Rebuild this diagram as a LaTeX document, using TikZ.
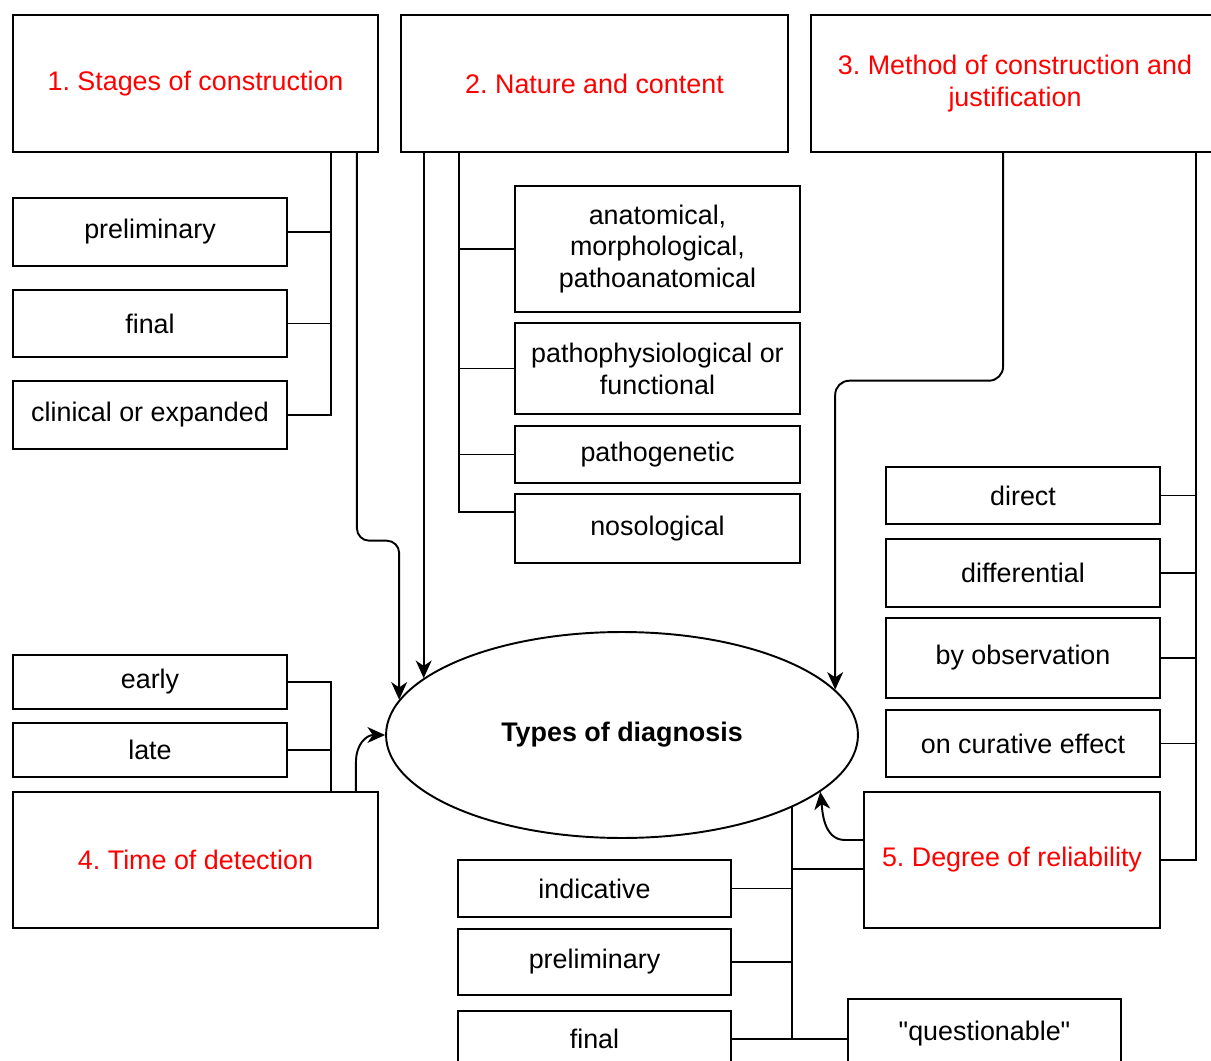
\documentclass[tikz,border=0pt]{standalone}
\usepackage{fontspec}
\setmainfont{Liberation Sans}
\usepackage{tikz}
\usetikzlibrary{calc,shapes.geometric,arrows.meta}
\frenchspacing

\begin{document}
\begin{tikzpicture}[x=0.02cm,y=-0.02cm,line width=1.1pt,
    box/.style={draw,rectangle,inner sep=2pt,align=center,font=\fontsize{15.3}{18.1}\selectfont},
    head/.style={box,text=red,minimum height=2.73cm},
    leaf/.style={box,minimum width=5.48cm},
    arr/.style={-{Stealth[length=10pt,width=9pt,inset=3pt]}}]
  \useasboundingbox (0,0) rectangle (1211,1061);
  %\draw[very thin,lightgray] (0,0) grid[step=100] (1211,1061);
  \node[head,minimum width=7.3cm] (b1) at (195.5,83.5) {1. Stages of construction};
  \node[head,minimum width=7.74cm] (b2) at (594.5,83.5) {2. Nature and content};
  \node[head,minimum width=8.16cm] (b3) at (1015,83.5) {3. Method of construction and\\justification};
  \node[head,minimum width=7.3cm] (b4) at (195.5,860) {4. Time of detection};
  \node[head,minimum width=5.92cm] (rel) at (1012,860) {5. Degree of reliability};
  \node[draw,ellipse,minimum width=9.44cm,minimum height=4.12cm,inner sep=0pt,
    font=\bfseries\fontsize{15.3}{18.1}\selectfont] (ell) at (622,735) {Types of diagnosis};

  \node[leaf,minimum height=1.36cm] (pre1) at (150,232) {preliminary};
  \node[leaf,minimum height=1.34cm] (fin1) at (150,323.5) {final};
  \node[leaf,minimum height=1.36cm] (cli) at (150,415) {clinical or expanded};

  \node[leaf,minimum width=5.7cm,minimum height=2.52cm] (ana) at (657.5,249) {anatomical,\\morphological,\\pathoanatomical};
  \node[leaf,minimum width=5.7cm,minimum height=1.82cm] (phy) at (657.5,368.5) {pathophysiological or\\functional};
  \node[leaf,minimum width=5.7cm,minimum height=1.14cm] (gen) at (657.5,454.5) {pathogenetic};
  \node[leaf,minimum width=5.7cm,minimum height=1.38cm] (nos) at (657.5,528.5) {nosological};

  \node[leaf,minimum height=1.14cm] (dir) at (1023,495.5) {direct};
  \node[leaf,minimum height=1.36cm] (dif) at (1023,573) {differential};
  \node[leaf,minimum height=1.6cm] (obs) at (1023,658) {by observation};
  \node[leaf,minimum height=1.34cm] (cur) at (1023,743.5) {on curative effect};

  \node[leaf,minimum height=1.08cm] (early) at (150,682) {early};
  \node[leaf,minimum height=1.08cm] (late) at (150,750) {late};

  \node[leaf,minimum width=5.46cm,minimum height=1.14cm] (ind) at (594.5,888.5) {indicative};
  \node[leaf,minimum width=5.46cm,minimum height=1.32cm] (pre2) at (594.5,962) {preliminary};
  \node[leaf,minimum width=5.46cm,minimum height=1.12cm] (fin2) at (594.5,1039) {final};
  \node[leaf,minimum width=5.46cm,minimum height=1.4cm] (que) at (984.5,1034) {\textquotedbl questionable\textquotedbl};

  % 1. stages
  \coordinate (s1) at ($(b1.south east)+(-48,0)$);
  \foreach \n in {pre1,fin1,cli} \draw (s1) |- (\n.east);
  \draw[arr,rounded corners=7pt] ($(b1.south east)+(-22,0)$) -- ++(0,388) -| (ell.171.8);

  % 2. nature
  \coordinate (s2) at ($(b2.south west)+(59,0)$);
  \foreach \n in {ana,phy,gen} \draw (s2) |- (\n.west);
  \draw (s2) |- ($(nos.west)+(0,-16.5)$);
  \draw[arr] (b2.south -| ell.164.2) -- (ell.164.2);

  % 3. method
  \coordinate (s3) at ($(b3.south west)+(386,0)$);
  \foreach \n in {dir,dif,obs,cur,rel} \draw (s3) |- (\n.east);
  \draw[arr,rounded corners=8pt] ($(b3.south west)+(193,0)$) -- ++(0,228) -| (ell.12.5);

  % 4. time
  \coordinate (s4) at ($(b4.north east)+(-48,0)$);
  \foreach \n in {early,late} \draw (s4) |- (\n.east);
  \coordinate (c4) at ($(b4.north east)+(-23,-28)$);
  \draw[arr] (c4 |- b4.north) -- (c4) .. controls +(0,-20) and +(-18,0) .. (ell.west);

  % 5. reliability
  \coordinate (r5) at ($(rel.west)+(0,9)$);
  \draw (ell.-23.8) |- (fin2.east);
  \draw (r5) -- (r5 -| ell.-23.8);
  \foreach \n in {ind,pre2} \draw (\n.east) -- (\n.east -| ell.-23.8);
  \draw (fin2.east) -- (que.west |- fin2.east);
  \coordinate (c5) at ($(rel.west)+(-18,-20)$);
  \draw[arr] ($(rel.west)+(0,-20)$) -- (c5) .. controls +(-22,0) and +(2,18) .. (ell.-16.3);
\end{tikzpicture}
\end{document}
